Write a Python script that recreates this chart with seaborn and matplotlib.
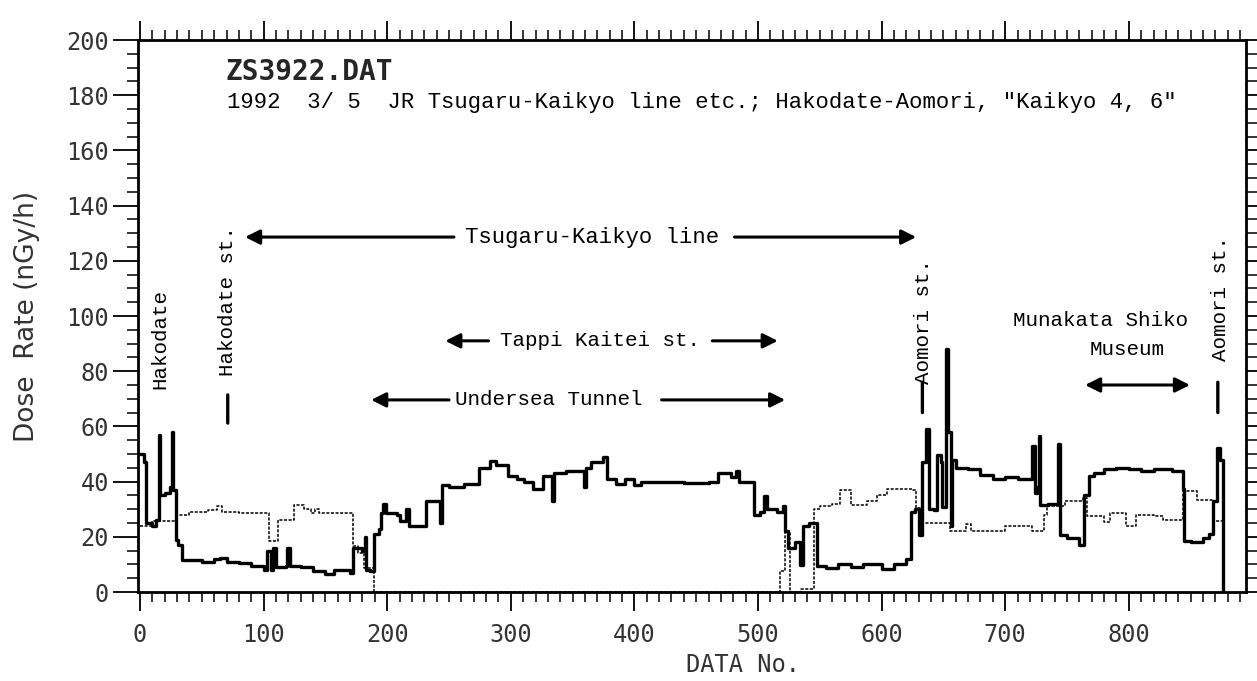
import matplotlib
matplotlib.use("Agg")
import matplotlib.pyplot as plt
import seaborn as sns

# ---------------- data ----------------
solid_x = [0, 3, 5, 10, 13, 15, 16, 20, 24, 26, 27, 29, 31, 34, 40, 50, 60, 65, 70, 80, 90,
           100, 103, 106, 108, 110, 118, 119, 121, 130, 140, 150, 157, 163, 170, 172, 180,
           182, 183, 186, 189, 193, 195, 197, 199, 208, 210, 215, 218, 228, 231, 238, 243,
           244, 250, 262, 274, 283, 288, 298, 305, 311, 318, 326, 333, 335, 345, 358, 359,
           361, 365, 375, 378, 385, 392, 400, 405, 420, 440, 460, 468, 478, 482, 485, 497,
           502, 505, 507, 515, 520, 522, 524, 530, 534, 536, 541, 548, 555, 565, 575, 585,
           600, 610, 620, 624, 627, 630, 633, 636, 638, 642, 645, 648, 649, 652, 654, 656,
           657, 660, 670, 680, 690, 700, 710, 722, 724, 726, 727, 728, 735, 743, 744, 750,
           760, 764, 768, 772, 780, 790, 800, 810, 820, 835, 844, 845, 850, 860, 865, 868,
           871, 874, 876]
solid_y = [50, 47, 25, 24, 26, 57, 35, 36, 38, 58, 37, 19, 17, 11.5, 11.5, 11, 12, 12.5, 11,
           10.5, 9.5, 8, 15, 8, 16, 9, 9.5, 16, 9.5, 9, 7.5, 6.5, 8, 8, 7, 16, 15, 20, 8, 7.5,
           21, 23, 28.5, 32, 28.5, 28, 25.6, 30, 24, 24, 33, 33, 25, 38.6, 38, 39, 44.8, 47.6,
           46, 42, 41, 40, 37.5, 42, 33, 43, 44, 43.7, 38, 45, 47, 49, 41, 39, 41, 38.6, 39.7,
           40, 39.5, 40, 43, 41.5, 44, 40, 27.8, 29, 34.7, 30, 29, 31, 22, 16, 18, 9.7, 24,
           25, 9.4, 8.7, 10, 9, 10, 8.5, 10, 12, 29, 30, 20.6, 47, 59, 30, 29.6, 49.5, 47,
           30.7, 88, 58, 24, 48, 45, 44.5, 42.5, 41, 41.5, 41, 53, 36, 38, 56.7, 31.4, 32,
           53.8, 20.6, 19.5, 17, 35, 42, 43, 44.5, 45, 44.5, 44, 44.5, 44, 37.5, 18.4, 18,
           19.5, 21, 33, 52, 48, 0]

dotted_x = [0, 10, 30, 40, 55, 62, 66, 80, 104, 112, 125, 133, 138, 142, 145, 160, 172, 176,
            181, 189, 518, 522, 526, 535, 545, 550, 560, 566, 575, 588, 596, 604, 625, 628,
            631, 655, 668, 672, 700, 722, 731, 734, 744, 748, 763, 766, 780, 785, 798, 806,
            820, 828, 844, 855, 868, 876]
dotted_y = [24, 25.6, 27.8, 29, 29.6, 31, 29, 28.6, 18.4, 26, 31.4, 30, 28.5, 30, 28.5, 28.7,
            16.6, 14, 8.7, 0, 7.5, 22, 0, 1, 30, 31, 31.8, 36.8, 31.5, 33, 35, 37.5, 37, 30.5,
            25, 22, 24.6, 22, 24, 22, 28, 31, 31, 33, 34, 27.5, 25.5, 28.7, 24, 28, 27.5, 26,
            36.5, 33.5, 25.6, 25]

x_ticks = [0, 100, 200, 300, 400, 500, 600, 700, 800]
y_ticks = [0, 20, 40, 60, 80, 100, 120, 140, 160, 180, 200]

title_text = "ZS3922.DAT"
subtitle_text = '1992  3/ 5  JR Tsugaru-Kaikyo line etc.; Hakodate-Aomori, "Kaikyo 4, 6"'

# ---------------- style ----------------
sns.set_style("white")
plt.rcParams["font.family"] = ["DejaVu Sans Mono", "DejaVu Sans"]

fig = plt.figure(figsize=(12.57, 6.81), dpi=100)
ax = fig.add_axes([138 / 1257, 1 - 592 / 681, (1246 - 138) / 1257, (592 - 40) / 681])

sns.lineplot(x=dotted_x, y=dotted_y, ax=ax, color="black", lw=1.1,
             linestyle=(0, (2, 1)), drawstyle="steps-post", estimator=None, sort=False)
sns.lineplot(x=solid_x, y=solid_y, ax=ax, color="black", lw=2.4,
             drawstyle="steps-post", estimator=None, sort=False)

ax.set_xlim(-1.6, 894.8)
ax.set_ylim(0, 200)

ax.set_xticks(x_ticks)
ax.set_xticks(list(range(0, 900, 10)), minor=True)
ax.set_yticks(y_ticks)
ax.set_yticks(list(range(0, 201, 5)), minor=True)
ax.set_xticklabels([str(t) for t in x_ticks])
ax.set_yticklabels([str(t) for t in y_ticks])

ax.tick_params(axis="x", which="major", direction="out", length=14, width=1.3,
               top=True, bottom=True, labeltop=False, pad=8, labelsize=17,
               labelcolor="#333333", color="black")
ax.tick_params(axis="x", which="minor", direction="out", length=7, width=1.1,
               top=True, bottom=True, color="black")
ax.tick_params(axis="y", which="major", direction="out", length=18, width=1.3,
               left=True, right=True, labelright=False, pad=3, labelsize=17,
               labelcolor="#333333", color="black")
ax.tick_params(axis="y", which="minor", direction="out", length=8, width=1.1,
               left=True, right=True, color="black")
for s in ax.spines.values():
    s.set_visible(True)
    s.set_linewidth(2.0)
    s.set_color("black")

ax.set_xlabel("DATA No.", fontsize=17, color="#333333", va="center")
ax.xaxis.set_label_coords(0.546, -0.132)
ax.set_ylabel("Dose  Rate (nGy/h)", fontsize=19, color="#333333",
              family=["DejaVu Sans"], va="center")
ax.yaxis.set_label_coords(-0.100, 0.5)

# ---------------- annotations ----------------
ann_font = dict(family=["Liberation Mono", "DejaVu Sans Mono"], color="black")
ax.text(69, 188.4, title_text, fontsize=20, fontweight="bold", ha="left", va="center",
        family=["DejaVu Sans Mono"])
ax.text(70, 177.5, subtitle_text, fontsize=16, ha="left", va="center", **ann_font)

arrow = dict(arrowstyle="-|>", lw=2.2, color="black", mutation_scale=22, shrinkA=0, shrinkB=0)

# Tsugaru-Kaikyo line
ax.text(366, 128.6, "Tsugaru-Kaikyo line", fontsize=16, ha="center", va="center", **ann_font)
ax.annotate("", xy=(85, 128.6), xytext=(254, 128.6), arrowprops=arrow)
ax.annotate("", xy=(628, 128.6), xytext=(481, 128.6), arrowprops=arrow)

# Tappi Kaitei st.
ax.text(372, 91, "Tappi Kaitei st.", fontsize=15, ha="center", va="center", **ann_font)
ax.annotate("", xy=(247, 91), xytext=(282, 91), arrowprops=arrow)
ax.annotate("", xy=(516, 91), xytext=(463, 91), arrowprops=arrow)

# Undersea Tunnel
ax.text(331, 69.6, "Undersea Tunnel", fontsize=15, ha="center", va="center", **ann_font)
ax.annotate("", xy=(187, 69.6), xytext=(250, 69.6), arrowprops=arrow)
ax.annotate("", xy=(522, 69.6), xytext=(422, 69.6), arrowprops=arrow)

# station labels (vertical)
ax.text(16, 91.7, "Hakodate", rotation=90, fontsize=15, ha="center", va="center", **ann_font)
ax.text(71, 105.4, "Hakodate st.", rotation=90, fontsize=15, ha="center", va="center", **ann_font)
ax.text(633.6, 98, "Aomori st.", rotation=90, fontsize=15, ha="center", va="center", **ann_font)
ax.text(874, 106.5, "Aomori st.", rotation=90, fontsize=15, ha="center", va="center", **ann_font)
bar = dict(arrowstyle="-", lw=2.4, color="black", shrinkA=0, shrinkB=0)
ax.annotate("", xy=(71, 61.2), xytext=(71, 71.4), arrowprops=bar)
ax.annotate("", xy=(633, 65), xytext=(633, 76), arrowprops=bar)
ax.annotate("", xy=(872, 65), xytext=(872, 76), arrowprops=bar)

# Munakata Shiko Museum
ax.text(777, 98.5, "Munakata Shiko", fontsize=15, ha="center", va="center", **ann_font)
ax.text(798.5, 87.7, "Museum", fontsize=15, ha="center", va="center", **ann_font)
ax.annotate("", xy=(764.6, 75), xytext=(849.5, 75),
            arrowprops=dict(arrowstyle="<|-|>", lw=2.2, color="black", mutation_scale=22,
                            shrinkA=0, shrinkB=0))

fig.savefig("out.png", dpi=100)
